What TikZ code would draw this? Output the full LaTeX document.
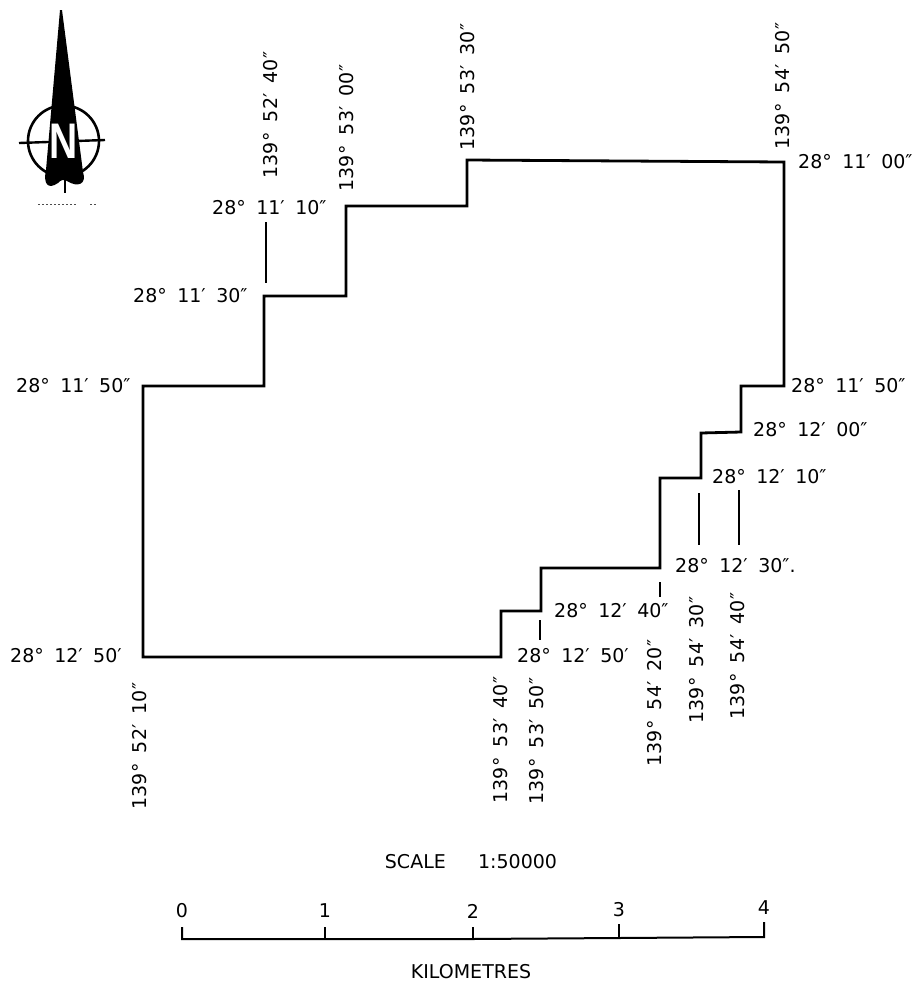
\documentclass[tikz,border=0pt]{standalone}
\usepackage{fontspec}
\setmainfont{DejaVu Sans}
\newfontfamily\arrowfont{Liberation Sans}
\tikzset{
 bdy/.style={line width=2.8pt,line join=miter},
 lead/.style={line width=1.6pt},
 lab/.style={inner sep=0pt,font=\fontsize{19}{21}\selectfont,text=black},
 hlab/.style={lab,anchor=west},
 vlab/.style={lab,rotate=90,anchor=center},
 sc/.style={line width=2pt},
}
\newcommand{\dms}[3]{#1°\hspace{0.55em}#2′\hspace{0.55em}#3″}
\newcommand{\dmm}[3]{#1°\hspace{0.55em}#2′\hspace{0.55em}#3′}
\begin{document}
\begin{tikzpicture}[x=1pt,y=-1pt]
\useasboundingbox (0,0) rectangle (912,983);
\fill[white] (0,0) rectangle (912,983);
% north arrow
\draw[line width=2.6pt] (63.5,141) circle (35.5);
\draw[line width=2.4pt] (19,143) -- (105,140);
\fill[black] (60,10) -- (62,10) -- (83,172) .. controls (87,184) and (78,188) .. (67,181)
  .. controls (63,179) and (61,180) .. (58,183) .. controls (48,190) and (43,184) .. (46,170) -- cycle;
\draw[line width=2.4pt] (65,180) -- (65,193);
\node[inner sep=0pt,text=white,font=\arrowfont\bfseries\fontsize{50}{50}\selectfont,xscale=0.78] (north) at (64,141) {N};
\draw[line width=1pt,dash pattern=on 2pt off 2pt,black!70] (38,204) -- (76,204);
\draw[line width=1pt,dash pattern=on 2pt off 2pt,black!70] (90,204) -- (97,204);
% boundary
\draw[bdy] (143,386) -- (264,386) -- (264,296) -- (346,296) -- (346,206) -- (467,206) -- (467,160)
 -- (784,162) -- (784,386) -- (741,386) -- (741,432) -- (701,433) -- (701,478) -- (660,478)
 -- (660,568) -- (541,568) -- (541,611) -- (501,611) -- (501,657) -- (143,657) -- cycle;
% leaders
\coordinate (l1a) at (266,222); \coordinate (l1b) at (266,283);
\coordinate (l2a) at (699,493); \coordinate (l2b) at (699,545);
\coordinate (l3a) at (739,490); \coordinate (l3b) at (739,545);
\coordinate (l4a) at (660,582); \coordinate (l4b) at (660,597);
\coordinate (l5a) at (540,620); \coordinate (l5b) at (540,640);
\draw[lead] (l1a) -- (l1b); \draw[lead] (l2a) -- (l2b); \draw[lead] (l3a) -- (l3b);
\draw[lead] (l4a) -- (l4b); \draw[lead] (l5a) -- (l5b);
% horizontal labels
\node[hlab] (h1) at (798,162) {\dms{28}{11}{00}};
\node[hlab] (h2) at (212,208) {\dms{28}{11}{10}};
\node[hlab] (h3) at (133,296) {\dms{28}{11}{30}};
\node[hlab] (h4) at (16,386) {\dms{28}{11}{50}};
\node[hlab] (h5) at (791,386) {\dms{28}{11}{50}};
\node[hlab] (h6) at (753,430) {\dms{28}{12}{00}};
\node[hlab] (h7) at (712,477) {\dms{28}{12}{10}};
\node[hlab] (h8) at (675,566) {\dms{28}{12}{30}.};
\node[hlab] (h9) at (554,611) {\dms{28}{12}{40}};
\node[hlab] (h10) at (517,656) {\dmm{28}{12}{50}};
\node[hlab] (h11) at (10,656) {\dmm{28}{12}{50}};
% vertical labels
\node[vlab] (v1) at (271,115) {\dms{139}{52}{40}};
\node[vlab] (v2) at (347,128) {\dms{139}{53}{00}};
\node[vlab] (v3) at (468,87) {\dms{139}{53}{30}};
\node[vlab] (v4) at (783,86) {\dms{139}{54}{50}};
\node[vlab] (v5) at (140,746) {\dms{139}{52}{10}};
\node[vlab] (v6) at (501,740) {\dms{139}{53}{40}};
\node[vlab] (v7) at (537,741) {\dms{139}{53}{50}};
\node[vlab] (v8) at (655,703) {\dms{139}{54}{20}};
\node[vlab] (v9) at (697,660) {\dms{139}{54}{30}};
\node[vlab] (v10) at (738,656) {\dms{139}{54}{40}};
% scale
\node[lab] (scl) at (471,862) {SCALE\hspace{1.7em}1:50000};
\coordinate (s0) at (182,939); \coordinate (s1) at (325,939); \coordinate (s2) at (473,939);
\coordinate (s3) at (619,938); \coordinate (s4) at (764,937);
\draw[sc] (182,927) -- (s0) -- (s1) -- (s2) -- (s3) -- (s4) -- (764,922);
\draw[sc] (s1) -- (325,927); \draw[sc] (s2) -- (473,927); \draw[sc] (s3) -- (619,924);
\node[lab] (n0) at (182,911) {0};
\node[lab] (n1) at (325,911) {1};
\node[lab] (n2) at (473,911) {2};
\node[lab] (n3) at (619,910) {3};
\node[lab] (n4) at (764,908) {4};
\node[lab] (km) at (471,972) {KILOMETRES};
\end{tikzpicture}
\end{document}
